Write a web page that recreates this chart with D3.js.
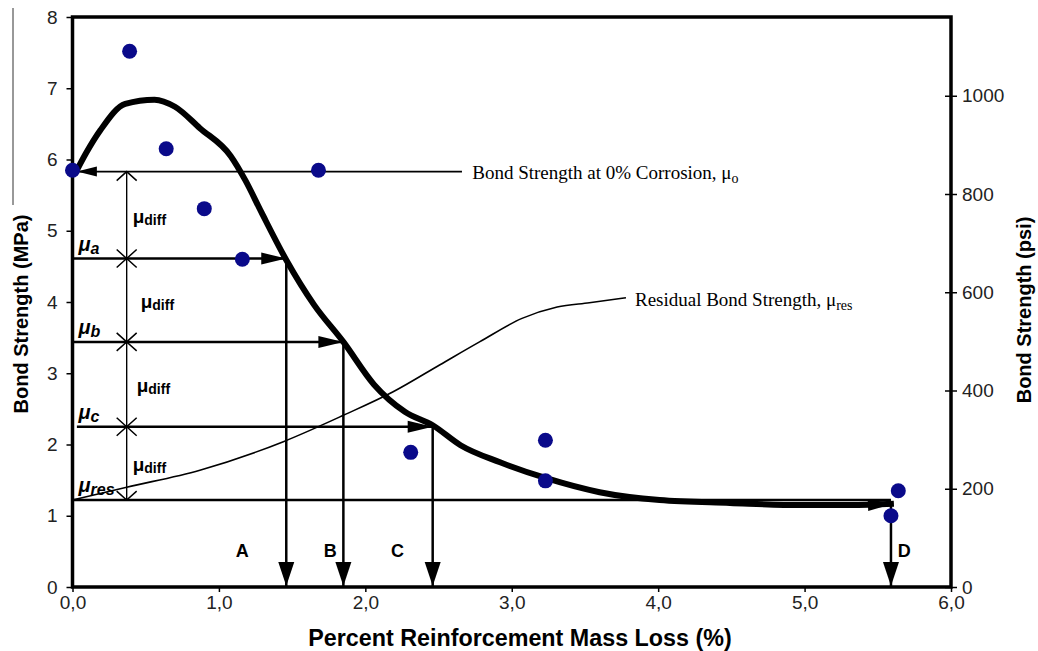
<!DOCTYPE html>
<html>
<head>
<meta charset="utf-8">
<script src="https://cdn.jsdelivr.net/npm/d3@7"></script>
<style>
  html, body { margin: 0; background: #fff; }
  svg { display: block; font-family: "Liberation Sans", Arial, sans-serif; }
  .serif { font-family: "Liberation Serif", "Times New Roman", serif; }
</style>
</head>
<body>
<div id="chart"></div>
<script>
// measured bond strengths
const massLoss = [0.00, 0.39, 0.64, 0.90, 1.16, 1.68, 2.31, 3.23, 3.23, 5.59, 5.64];
const bondMPa  = [5.85, 7.52, 6.15, 5.31, 4.60, 5.85, 1.89, 2.06, 1.49, 1.00, 1.35];

// fitted bond curve (thick line)
const fitX = [0.03, 0.09, 0.19, 0.36, 0.56, 0.70, 0.87, 1.08, 1.18, 1.29, 1.46, 1.65, 1.85, 2.06, 2.27, 2.46, 2.65, 2.92, 3.23, 3.60, 4.01, 4.49, 4.97, 5.31, 5.61];
const fitY = [5.85, 6.08, 6.41, 6.78, 6.84, 6.74, 6.44, 6.05, 5.71, 5.26, 4.59, 3.96, 3.44, 2.84, 2.46, 2.27, 1.99, 1.75, 1.53, 1.33, 1.22, 1.18, 1.15, 1.15, 1.17];

// residual bond strength curve (thin line)
const resX = [0.00, 0.37, 0.87, 1.44, 1.85, 2.19, 2.51, 2.78, 3.07, 3.31, 3.53, 3.78];
const resY = [1.22, 1.40, 1.64, 2.04, 2.41, 2.74, 3.12, 3.44, 3.77, 3.93, 3.99, 4.06];

// strength levels mu_o ... mu_res
const muNames  = ["o", "a", "b", "c", "res"];
const muLevels = [5.83, 4.61, 3.44, 2.25, 1.22];
const diffX = 0.37;

// mass loss where each level meets the curve
const dropX     = [1.46, 1.85, 2.46, 5.59];
const dropNames = ["A", "B", "C", "D"];
const dropLabelX = [1.16, 1.76, 2.22, 5.68];
const dropLabelY = 0.52;

const xTicks   = [0, 1, 2, 3, 4, 5, 6];
const yTicks   = [0, 1, 2, 3, 4, 5, 6, 7, 8];
const psiTicks = [0, 200, 400, 600, 800, 1000];
const MPA_TO_PSI = 145.038;

window.addEventListener("DOMContentLoaded", () => {
  const width = 1038, height = 651;
  const svg = d3.select("#chart").append("svg")
    .attr("width", width).attr("height", height);

  const x = d3.scaleLinear().domain([0, 6]).range([72.5, 951]);
  const y = d3.scaleLinear().domain([0, 8]).range([587, 17]);
  const yPsi = d3.scaleLinear().domain([0, 8 * MPA_TO_PSI]).range([587, 17]);

  // markers
  const defs = svg.append("defs");
  const marker = (id, w, h, path, fill, stroke) => {
    defs.append("marker")
      .attr("id", id)
      .attr("markerUnits", "userSpaceOnUse")
      .attr("viewBox", `${-w - 2} ${-h - 2} ${w + 4} ${2 * h + 4}`)
      .attr("refX", 0).attr("refY", 0)
      .attr("markerWidth", w + 4).attr("markerHeight", 2 * h + 4)
      .attr("orient", "auto-start-reverse")
      .append("path")
      .attr("d", path)
      .attr("fill", fill)
      .attr("stroke", stroke || "none")
      .attr("stroke-width", 1.5);
  };
  marker("solid", 25, 6, "M-25,-6L0,0L-25,6Z", "#000");
  marker("drop", 24, 8, "M-24,-8L0,0L-24,8Z", "#000");
  marker("small", 20, 5, "M-20,-5L0,0L-20,5Z", "#000");
  marker("thick", 26, 6, "M-26,-6L0,0L-26,6Z", "#000");
  marker("open", 9, 10, "M-9,-10L0,0L-9,10", "none", "#000");

  // stray crop line at far left
  svg.append("line")
    .attr("x1", 13).attr("x2", 13).attr("y1", 8).attr("y2", 205)
    .attr("stroke", "#333").attr("stroke-width", 1);

  // axes
  const commaFmt = d => d3.format(".1f")(d).replace(".", ",");

  const gL = svg.append("g")
    .attr("transform", `translate(${x(0)},0)`)
    .call(d3.axisLeft(y).tickValues(yTicks).tickSize(6).tickPadding(9));
  const gB = svg.append("g")
    .attr("transform", `translate(0,${y(0)})`)
    .call(d3.axisBottom(x).tickValues(xTicks).tickSize(5).tickPadding(4).tickFormat(commaFmt));
  const gR = svg.append("g")
    .attr("transform", `translate(${x(6)},0)`)
    .call(d3.axisRight(yPsi).tickValues(psiTicks).tickSize(6).tickPadding(5).tickFormat(d3.format("d")));
  const gRi = svg.append("g")
    .attr("transform", `translate(${x(6)},0)`)
    .call(d3.axisLeft(yPsi).tickValues(psiTicks).tickSize(6).tickFormat(""));

  [gL, gB, gR, gRi].forEach(g => {
    g.select(".domain").remove();
    g.selectAll(".tick line").attr("stroke", "#000").attr("stroke-width", 1.5);
    g.selectAll(".tick text").attr("fill", "#222")
      .style("font-size", "19px")
      .style("font-family", "'Liberation Sans', Arial, sans-serif");
  });

  // plot frame
  svg.append("rect")
    .attr("x", x(0)).attr("y", y(8))
    .attr("width", x(6) - x(0)).attr("height", y(0) - y(8))
    .attr("fill", "none").attr("stroke", "#000").attr("stroke-width", 3.5);

  // axis titles
  svg.append("text")
    .attr("transform", `translate(28,${(y(0) + y(8)) / 2 + 12}) rotate(-90)`)
    .attr("text-anchor", "middle")
    .style("font-size", "20px").style("font-weight", "bold")
    .text("Bond Strength (MPa)");
  svg.append("text")
    .attr("transform", `translate(1031,${(y(0) + y(8)) / 2 + 8}) rotate(-90)`)
    .attr("text-anchor", "middle")
    .style("font-size", "20px").style("font-weight", "bold")
    .text("Bond Strength (psi)");
  svg.append("text")
    .attr("x", 520).attr("y", 646)
    .attr("text-anchor", "middle")
    .style("font-size", "23.3px").style("font-weight", "bold")
    .text("Percent Reinforcement Mass Loss (%)");

  // residual strength curve
  const resLine = d3.line().x(d => x(d[0])).y(d => y(d[1])).curve(d3.curveMonotoneX);
  svg.append("path")
    .datum(d3.zip(resX, resY))
    .attr("d", resLine)
    .attr("fill", "none").attr("stroke", "#000").attr("stroke-width", 1.6);

  // mu_o line with arrow to the axis
  svg.append("line")
    .attr("x1", x(2.66)).attr("x2", x(0.03))
    .attr("y1", y(muLevels[0])).attr("y2", y(muLevels[0]))
    .attr("stroke", "#000").attr("stroke-width", 1.6)
    .attr("marker-end", "url(#small)");

  // horizontal level arrows mu_a, mu_b, mu_c, mu_res
  muLevels.slice(1).forEach((lv, i) => {
    svg.append("line")
      .attr("x1", x(i === 2 ? 0.03 : 0)).attr("x2", x(dropX[i]))
      .attr("y1", y(lv)).attr("y2", y(lv))
      .attr("stroke", "#000").attr("stroke-width", 2.5)
      .attr("marker-end", i < 3 ? "url(#solid)" : null);
  });

  // vertical drop arrows
  dropX.forEach((dx, i) => {
    const top = i < 3 ? muLevels[i + 1] : 1.17;
    svg.append("line")
      .attr("x1", x(dx)).attr("x2", x(dx))
      .attr("y1", y(top)).attr("y2", y(0) - 1)
      .attr("stroke", "#000").attr("stroke-width", 2.5)
      .attr("marker-end", "url(#drop)");
  });

  // mu_diff double arrows
  d3.pairs(muLevels).forEach(([a, b]) => {
    svg.append("line")
      .attr("x1", x(diffX)).attr("x2", x(diffX))
      .attr("y1", y(a)).attr("y2", y(b))
      .attr("stroke", "#000").attr("stroke-width", 1.4)
      .attr("marker-start", "url(#open)")
      .attr("marker-end", "url(#open)");
  });

  // fitted curve (thick)
  const fitLine = d3.line().x(d => x(d[0])).y(d => y(d[1])).curve(d3.curveMonotoneX);
  svg.append("path")
    .datum(d3.zip(fitX, fitY))
    .attr("d", fitLine)
    .attr("fill", "none").attr("stroke", "#000").attr("stroke-width", 6)
    .attr("stroke-linejoin", "round")
    .attr("marker-end", "url(#thick)");

  // measured points
  svg.selectAll("circle.pt")
    .data(d3.zip(massLoss, bondMPa))
    .join("circle")
    .attr("class", "pt")
    .attr("cx", d => x(d[0])).attr("cy", d => y(d[1]))
    .attr("r", 7.5)
    .attr("fill", "#0a0a8a");

  // mu labels
  muLevels.slice(1).forEach((lv, i) => {
    const t = svg.append("text")
      .attr("x", x(0) + 6).attr("y", y(lv) - 8)
      .style("font-size", "20px").style("font-weight", "bold").style("font-style", "italic");
    t.append("tspan").text("μ");
    t.append("tspan").attr("dy", 3).style("font-size", "16px").text(muNames[i + 1]);
  });

  // mu_diff labels
  const diffDx = [6, 14, 10, 6];
  d3.pairs(muLevels).forEach(([a, b], i) => {
    const t = svg.append("text")
      .attr("x", x(diffX) + diffDx[i]).attr("y", (y(a) + y(b)) / 2 + 8)
      .style("font-size", "19px").style("font-weight", "bold");
    t.append("tspan").text("μ");
    t.append("tspan").attr("dy", 2).style("font-size", "14px").text("diff");
  });

  // A, B, C, D
  svg.selectAll("text.drop")
    .data(dropNames)
    .join("text")
    .attr("class", "drop")
    .attr("x", (d, i) => x(dropLabelX[i])).attr("y", y(dropLabelY) + 7)
    .attr("text-anchor", "middle")
    .style("font-size", "18px").style("font-weight", "bold")
    .text(d => d);

  // serif annotations
  const n1 = svg.append("text").attr("class", "serif")
    .attr("x", x(2.73)).attr("y", y(muLevels[0]) + 7)
    .style("font-size", "19px");
  n1.append("tspan").text("Bond Strength at 0% Corrosion, μ");
  n1.append("tspan").attr("dy", 4).style("font-size", "14px").text("o");

  const n2 = svg.append("text").attr("class", "serif")
    .attr("x", x(resX[resX.length - 1]) + 9).attr("y", y(resY[resY.length - 1]) + 8)
    .style("font-size", "19px");
  n2.append("tspan").text("Residual Bond Strength, μ");
  n2.append("tspan").attr("dy", 4).style("font-size", "14px").text("res");
});
</script>
</body>
</html>
